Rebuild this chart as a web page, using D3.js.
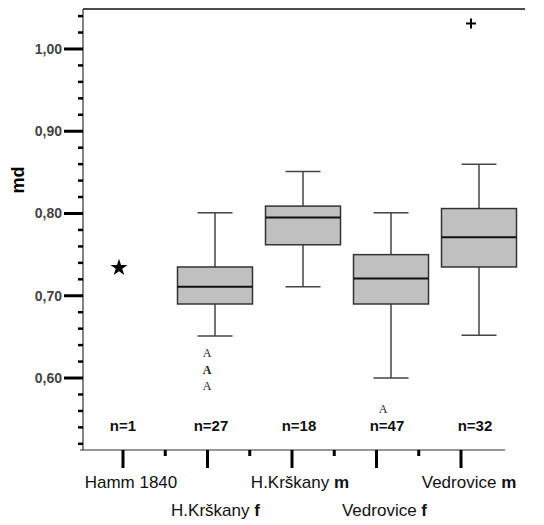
<!DOCTYPE html>
<html>
<head>
<meta charset="utf-8">
<script src="https://cdn.jsdelivr.net/npm/d3@7"></script>
<style>
  body { margin: 0; background: #fff; }
  svg { display: block; font-family: "Liberation Sans", Arial, sans-serif; }
</style>
</head>
<body>
<svg width="544" height="525"></svg>
<script>
// groups on the x axis
const groups = ['Hamm 1840', 'H.Krškany f', 'H.Krškany m', 'Vedrovice f', 'Vedrovice m']
const labelMain = ['Hamm 1840', 'H.Krškany ', 'H.Krškany ', 'Vedrovice ', 'Vedrovice ']
const labelBold = ['', 'f', 'm', 'f', 'm']
const counts = [1, 27, 18, 47, 32]

// box stats (null = no box)
const whiskerLow = [null, 0.651, 0.711, 0.600, 0.652]
const q1 = [null, 0.690, 0.762, 0.690, 0.735]
const median = [null, 0.711, 0.795, 0.721, 0.771]
const q3 = [null, 0.735, 0.809, 0.750, 0.806]
const whiskerHigh = [null, 0.801, 0.851, 0.801, 0.860]

// single value, outliers (A) and extremes (+)
const singleValue = [{ group: 'Hamm 1840', value: 0.734 }]
const outliers = [
  { group: 'H.Krškany f', value: 0.631, bold: false },
  { group: 'H.Krškany f', value: 0.610, bold: true },
  { group: 'H.Krškany f', value: 0.590, bold: false },
  { group: 'Vedrovice f', value: 0.562, bold: false },
]
const extremes = [{ group: 'Vedrovice m', value: 1.031 }]

const majorTicks = [0.60, 0.70, 0.80, 0.90, 1.00]
const minorTicks = [0.52, 0.54, 0.56, 0.58, 0.62, 0.64, 0.66, 0.68, 0.72, 0.74, 0.76, 0.78,
  0.82, 0.84, 0.86, 0.88, 0.92, 0.94, 0.96, 0.98, 1.02, 1.04]

const svg = d3.select('svg')

const y = d3.scaleLinear().domain([0.5125, 1.0486]).range([450, 9])
// boxes and axis ticks are not on the same spacing in the original
const xBox = d3.scalePoint().domain(groups).range([127, 479])
const xTick = d3.scalePoint().domain(groups).range([123, 461])

// frame
svg.append('line').attr('x1', 83).attr('x2', 525).attr('y1', 9).attr('y2', 9)
  .attr('stroke', '#111').attr('stroke-width', 1.5)
svg.append('line').attr('x1', 80).attr('x2', 505).attr('y1', 450).attr('y2', 450)
  .attr('stroke', '#333').attr('stroke-width', 1.2)
svg.append('line').attr('x1', 83).attr('x2', 83).attr('y1', 9).attr('y2', 450)
  .attr('stroke', '#333').attr('stroke-width', 1.2)

// y ticks
svg.append('g').selectAll('line').data(minorTicks).join('line')
  .attr('x1', 78).attr('x2', 83)
  .attr('y1', d => y(d)).attr('y2', d => y(d))
  .attr('stroke', '#000').attr('stroke-width', 2.5)
svg.append('g').selectAll('line').data(majorTicks).join('line')
  .attr('x1', 64).attr('x2', 83)
  .attr('y1', d => y(d)).attr('y2', d => y(d))
  .attr('stroke', '#000').attr('stroke-width', 3)
svg.append('g').selectAll('text').data(majorTicks).join('text')
  .attr('x', 62).attr('y', d => y(d))
  .attr('dy', '0.35em')
  .attr('text-anchor', 'end')
  .attr('font-size', 14).attr('font-weight', 'bold').attr('fill', '#444')
  .text(d => d3.format('.2f')(d).replace('.', ','))

svg.append('text')
  .attr('transform', 'translate(24,180) rotate(-90)')
  .attr('text-anchor', 'middle')
  .attr('font-size', 18).attr('font-weight', 'bold').attr('fill', '#000')
  .text('md')

// x ticks
const step = xTick.step()
svg.append('g').selectAll('line').data(groups).join('line')
  .attr('x1', d => xTick(d)).attr('x2', d => xTick(d))
  .attr('y1', 450).attr('y2', 468)
  .attr('stroke', '#000').attr('stroke-width', 3)
svg.append('g').selectAll('line').data(groups.slice(1)).join('line')
  .attr('x1', d => xTick(d) - step / 2).attr('x2', d => xTick(d) - step / 2)
  .attr('y1', 450).attr('y2', 456)
  .attr('stroke', '#000').attr('stroke-width', 3)

const xLabels = svg.append('g').selectAll('text').data(groups).join('text')
  .attr('x', d => xTick(d) + 8)
  .attr('y', (d, i) => i % 2 === 0 ? 488 : 516)
  .attr('text-anchor', 'middle')
  .attr('font-size', 17).attr('fill', '#111')
xLabels.append('tspan').text((d, i) => labelMain[i])
xLabels.append('tspan').attr('font-weight', 'bold').text((d, i) => labelBold[i])

// boxes
const boxW = 75
const capW = 35
const boxes = svg.append('g').selectAll('g')
  .data(groups.map((g, i) => ({ g, lo: whiskerLow[i], q1: q1[i], med: median[i], q3: q3[i], hi: whiskerHigh[i] }))
    .filter(d => d.med !== null))
  .join('g')

boxes.append('line')
  .attr('x1', d => xBox(d.g)).attr('x2', d => xBox(d.g))
  .attr('y1', d => y(d.hi)).attr('y2', d => y(d.lo))
  .attr('stroke', '#444').attr('stroke-width', 1.5)
boxes.append('line')
  .attr('x1', d => xBox(d.g) - capW / 2).attr('x2', d => xBox(d.g) + capW / 2)
  .attr('y1', d => y(d.hi)).attr('y2', d => y(d.hi))
  .attr('stroke', '#444').attr('stroke-width', 1.5)
boxes.append('line')
  .attr('x1', d => xBox(d.g) - capW / 2).attr('x2', d => xBox(d.g) + capW / 2)
  .attr('y1', d => y(d.lo)).attr('y2', d => y(d.lo))
  .attr('stroke', '#444').attr('stroke-width', 1.5)
boxes.append('rect')
  .attr('x', d => xBox(d.g) - boxW / 2).attr('width', boxW)
  .attr('y', d => y(d.q3)).attr('height', d => y(d.q1) - y(d.q3))
  .attr('fill', '#c0c0c0').attr('stroke', '#333').attr('stroke-width', 1.5)
boxes.append('line')
  .attr('x1', d => xBox(d.g) - boxW / 2).attr('x2', d => xBox(d.g) + boxW / 2)
  .attr('y1', d => y(d.med)).attr('y2', d => y(d.med))
  .attr('stroke', '#111').attr('stroke-width', 2)

// markers sit a little left of the box centre, as in the original
const markDx = -8

svg.append('g').selectAll('path').data(singleValue).join('path')
  .attr('d', d3.symbol(d3.symbolStar, 90))
  .attr('transform', d => 'translate(' + (xBox(d.group) + markDx) + ',' + y(d.value) + ')')
  .attr('fill', '#000')

svg.append('g').selectAll('text').data(outliers).join('text')
  .attr('x', d => xBox(d.group) + markDx)
  .attr('y', d => y(d.value))
  .attr('dy', '0.35em')
  .attr('text-anchor', 'middle')
  .attr('font-family', '"Liberation Serif", "Times New Roman", serif')
  .attr('font-size', 12)
  .attr('font-weight', d => d.bold ? 'bold' : 'normal')
  .attr('fill', '#222')
  .text('A')

const plus = svg.append('g').selectAll('g').data(extremes).join('g')
  .attr('transform', d => 'translate(' + (xBox(d.group) + markDx) + ',' + y(d.value) + ')')
plus.append('line').attr('x1', -5).attr('x2', 5).attr('stroke', '#000').attr('stroke-width', 2)
plus.append('line').attr('y1', -5).attr('y2', 5).attr('stroke', '#000').attr('stroke-width', 2)

// counts
svg.append('g').selectAll('text').data(groups).join('text')
  .attr('x', d => xBox(d) - 4)
  .attr('y', 431)
  .attr('text-anchor', 'middle')
  .attr('font-size', 15).attr('font-weight', 'bold').attr('fill', '#111')
  .text((d, i) => 'n=' + counts[i])
</script>
</body>
</html>
